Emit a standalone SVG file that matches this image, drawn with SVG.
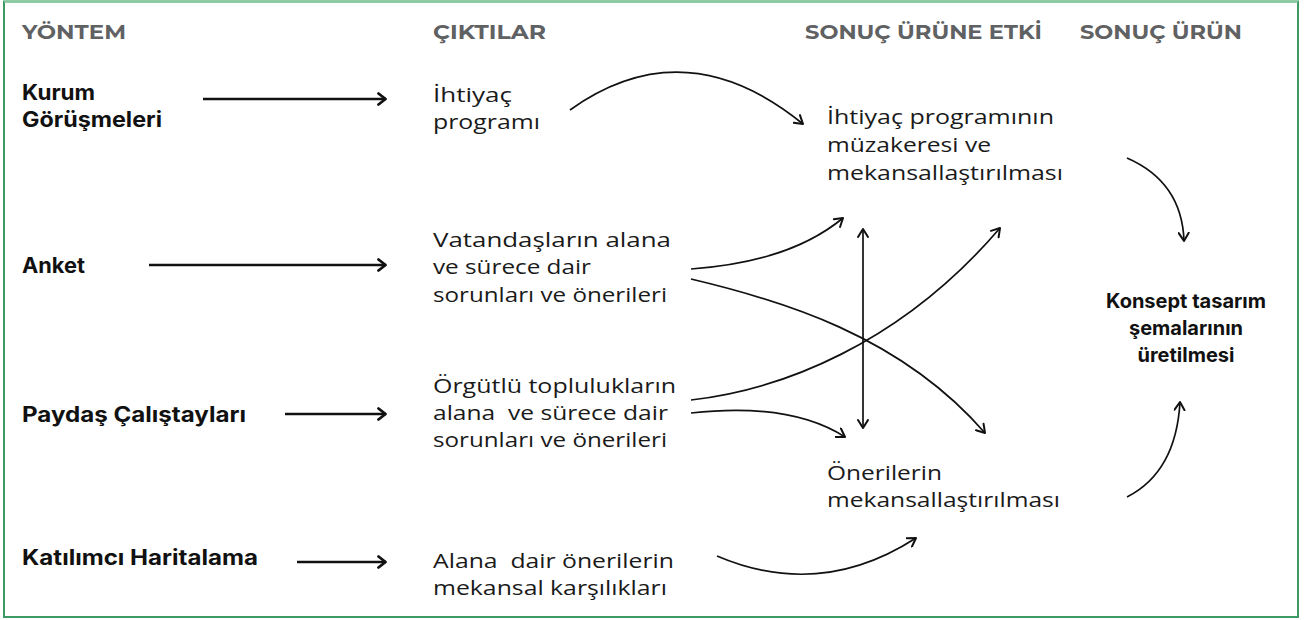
<svg xmlns="http://www.w3.org/2000/svg" width="1309" height="620" viewBox="0 0 1309 620">
<style>
.hdr{font-family:"Montserrat","Inter","Liberation Sans",sans-serif;font-weight:700;font-size:20px;fill:#5f6163}
.lbl{font-family:"Inter","Liberation Sans",sans-serif;font-weight:700;font-size:21px;fill:#111}
.kon{font-family:"Inter","Liberation Sans",sans-serif;font-weight:700;font-size:20px;fill:#111}
.txt{font-family:"Open Sans","Liberation Sans",sans-serif;font-weight:400;font-size:20px;fill:#1a1a1a}
.con{fill:none;stroke:#111;stroke-width:1.7}
.str{fill:none;stroke:#111;stroke-width:2.5}
</style>
<defs>
<marker id="ah" viewBox="0 0 10 12" refX="9" refY="6" markerWidth="10" markerHeight="12" markerUnits="userSpaceOnUse" orient="auto-start-reverse">
<path d="M1,1 L9,6 L1,11" fill="none" stroke="#111" stroke-width="2" stroke-linecap="round" stroke-linejoin="round"/>
</marker>
<marker id="ahs" viewBox="0 0 10 14" refX="9" refY="7" markerWidth="10" markerHeight="14" markerUnits="userSpaceOnUse" orient="auto">
<path d="M1.5,1.5 L8.5,7 L1.5,12.5" fill="none" stroke="#111" stroke-width="2.8" stroke-linecap="round" stroke-linejoin="round"/>
</marker>
</defs>
<rect x="4" y="1.5" width="1294" height="615.5" fill="#fff" stroke="#3d9a62" stroke-width="2"/>
<line x1="4" y1="1.5" x2="1298" y2="1.5" stroke="#86c9a0" stroke-width="2"/>

<g id="headers">
<text class="hdr" x="22" y="39" textLength="104" lengthAdjust="spacingAndGlyphs">YÖNTEM</text>
<text class="hdr" x="433" y="39" textLength="113" lengthAdjust="spacingAndGlyphs">ÇIKTILAR</text>
<text class="hdr" x="805" y="39" textLength="237" lengthAdjust="spacingAndGlyphs">SONUÇ ÜRÜNE ETKİ</text>
<text class="hdr" x="1080" y="39" textLength="162" lengthAdjust="spacingAndGlyphs">SONUÇ ÜRÜN</text>
</g>

<g id="n-kurum"><text class="lbl" x="22" y="100" textLength="73" lengthAdjust="spacingAndGlyphs">Kurum</text><text class="lbl" x="22" y="127" textLength="140" lengthAdjust="spacingAndGlyphs">Görüşmeleri</text></g>
<g id="n-anket"><text class="lbl" x="22" y="273" textLength="63" lengthAdjust="spacingAndGlyphs">Anket</text></g>
<g id="n-paydas"><text class="lbl" x="22" y="422" textLength="224" lengthAdjust="spacingAndGlyphs">Paydaş Çalıştayları</text></g>
<g id="n-katilimci"><text class="lbl" x="22" y="565" textLength="236" lengthAdjust="spacingAndGlyphs">Katılımcı Haritalama</text></g>

<g id="n-ihtiyac"><text class="txt" x="433" y="102" textLength="79" lengthAdjust="spacingAndGlyphs">İhtiyaç</text><text class="txt" x="433" y="129" textLength="107" lengthAdjust="spacingAndGlyphs">programı</text></g>
<g id="n-vatandas"><text class="txt" x="433" y="247" textLength="238" lengthAdjust="spacingAndGlyphs">Vatandaşların alana</text><text class="txt" x="433" y="274" textLength="158" lengthAdjust="spacingAndGlyphs">ve sürece dair</text><text class="txt" x="433" y="302" textLength="234" lengthAdjust="spacingAndGlyphs">sorunları ve önerileri</text></g>
<g id="n-orgutlu"><text class="txt" x="433" y="393" textLength="243" lengthAdjust="spacingAndGlyphs">Örgütlü toplulukların</text><text class="txt" x="433" y="420" textLength="235" lengthAdjust="spacingAndGlyphs" xml:space="preserve">alana  ve sürece dair</text><text class="txt" x="433" y="447" textLength="234" lengthAdjust="spacingAndGlyphs">sorunları ve önerileri</text></g>
<g id="n-alana"><text class="txt" x="433" y="568" textLength="241" lengthAdjust="spacingAndGlyphs" xml:space="preserve">Alana  dair önerilerin</text><text class="txt" x="433" y="595" textLength="234" lengthAdjust="spacingAndGlyphs">mekansal karşılıkları</text></g>

<g id="n-muzakere"><text class="txt" x="827" y="124" textLength="227" lengthAdjust="spacingAndGlyphs">İhtiyaç programının</text><text class="txt" x="827" y="152" textLength="164" lengthAdjust="spacingAndGlyphs">müzakeresi ve</text><text class="txt" x="827" y="180" textLength="236" lengthAdjust="spacingAndGlyphs">mekansallaştırılması</text></g>
<g id="n-oneriler"><text class="txt" x="827" y="480" textLength="115" lengthAdjust="spacingAndGlyphs">Önerilerin</text><text class="txt" x="827" y="507" textLength="233" lengthAdjust="spacingAndGlyphs">mekansallaştırılması</text></g>

<g id="n-konsept" text-anchor="middle"><text class="kon" x="1186" y="308">Konsept tasarım</text><text class="kon" x="1186" y="335">şemalarının</text><text class="kon" x="1186" y="362">üretilmesi</text></g>

<g id="connectors">
<path class="str" d="M203,99 H386" marker-end="url(#ahs)"/>
<path class="str" d="M149,265 H386" marker-end="url(#ahs)"/>
<path class="str" d="M285,414 H386" marker-end="url(#ahs)"/>
<path class="str" d="M297,562 H386" marker-end="url(#ahs)"/>
<path class="con" d="M570,110 Q685,28 803,124" marker-end="url(#ah)"/>
<path class="con" d="M691,269 Q790,262 843,218" marker-end="url(#ah)"/>
<path class="con" d="M691,279 C780,300 900,335 985,433" marker-end="url(#ah)"/>
<path class="con" d="M691,400 C780,390 900,345 1000,228" marker-end="url(#ah)"/>
<path class="con" d="M691,413 Q790,402 845,437" marker-end="url(#ah)"/>
<path class="con" d="M863,229 V428" marker-start="url(#ah)" marker-end="url(#ah)"/>
<path class="con" d="M717,556 Q820,600 916,538" marker-end="url(#ah)"/>
<path class="con" d="M1127,158 Q1182,182 1184,241" marker-end="url(#ah)"/>
<path class="con" d="M1127,497 Q1176,472 1180,402" marker-end="url(#ah)"/>
</g>
</svg>
